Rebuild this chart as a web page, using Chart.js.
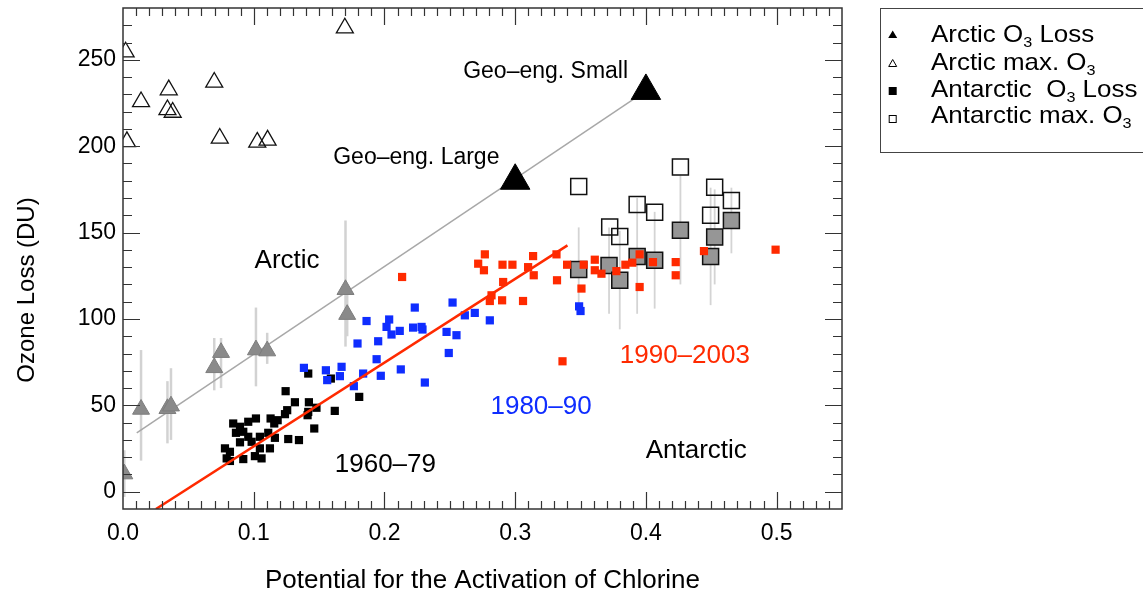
<!DOCTYPE html>
<html>
<head>
<meta charset="utf-8">
<script src="https://cdn.jsdelivr.net/npm/chart.js@4.4.1/dist/chart.umd.min.js"></script>
<style>
html,body{margin:0;padding:0;background:#fff;}
#wrap{position:relative;width:1143px;height:598px;overflow:hidden;}
#legend{position:absolute;left:880px;top:8px;width:300px;height:145px;border:1px solid #444;box-sizing:border-box;
  font-family:'Liberation Sans',Arial,Helvetica,sans-serif;font-size:24px;color:#000;}
#legend .row{position:absolute;left:50px;height:27px;line-height:27px;white-space:nowrap;transform:scaleX(1.08);transform-origin:0 50%;}
#legend .sub{font-size:15px;position:relative;top:5px;}
#legend svg{position:absolute;left:0;top:0;}
</style>
</head>
<body>
<div id="wrap">
<canvas id="c" width="1143" height="598"></canvas>
<div id="legend">
  <svg width="40" height="140">
    <polygon points="11.7,21.5 7.2,29 16.2,29" fill="#000"/>
    <polygon points="11.7,50.5 7.7,57.5 15.7,57.5" fill="none" stroke="#000" stroke-width="1"/>
    <rect x="7.7" y="78" width="8" height="8" fill="#000"/>
    <rect x="8.2" y="106.5" width="7" height="7" fill="none" stroke="#000" stroke-width="1"/>
  </svg>
  <div class="row" style="top:11px">Arctic O<span class="sub">3</span> Loss</div>
  <div class="row" style="top:39px">Arctic max. O<span class="sub">3</span></div>
  <div class="row" style="top:66px">Antarctic&nbsp; O<span class="sub">3</span> Loss</div>
  <div class="row" style="top:92px">Antarctic max. O<span class="sub">3</span></div>
</div>
</div>
<script>
// ---------------- data ----------------
const xTickValues = [0.0, 0.1, 0.2, 0.3, 0.4, 0.5];
const yTickValues = [0, 50, 100, 150, 200, 250];

// Arctic ozone loss (grey triangles) with error bars
const arcticLossX  = [0.001, 0.0138, 0.034, 0.0367, 0.0698, 0.075, 0.1017, 0.1103, 0.1702, 0.1715];
const arcticLossY  = [10.3, 47.7, 48.1, 49.6, 71.8, 80.6, 82.1, 81.5, 117.0, 102.6];
const arcticLossLo = [-3, 18, 28, 30, 58.7, 60, 61, 74, 84, 90];
const arcticLossHi = [24, 82, 64, 71.5, 89, 89, 106.6, 92, 157, 115];

// Arctic max. O3 (open triangles)
const arcticMaxX = [0.002, 0.003, 0.0138, 0.035, 0.034, 0.038, 0.0698, 0.074, 0.1027, 0.1106, 0.1697];
const arcticMaxY = [254.5, 202.6, 225.7, 232.6, 221.1, 219.6, 237.0, 204.6, 202.3, 203.5, 268.4];

// Geo-engineering scenarios (large black triangles)
const geoX = [0.3, 0.4];
const geoY = [180, 232];

// Antarctic ozone loss, 1960-79 (black squares)
const ant6079X = [0.1244, 0.1315, 0.1422, 0.162, 0.148, 0.1417, 0.1256, 0.1239, 0.1129, 0.1183,
                  0.1017, 0.0958, 0.0843, 0.0895, 0.092, 0.0864, 0.0958, 0.1047, 0.1111, 0.1162,
                  0.1412, 0.1463, 0.1264, 0.1346, 0.1124, 0.1047, 0.0984, 0.0895, 0.078, 0.0818,
                  0.0793, 0.092, 0.1009, 0.106, 0.1417, 0.159, 0.1807, 0.1157, 0.0818];
const ant6079Y = [58.2, 51.8, 51.8, 46.8, 48.6, 46.2, 47.2, 44.9, 42.4, 41.4,
                  42.4, 40.5, 39.5, 37.6, 34.7, 34.1, 31.8, 31.8, 34.1, 31.2,
                  44.3, 36.6, 30.5, 29.9, 25.1, 25.1, 28.9, 28.6, 25.1, 23.1,
                  19.3, 18.9, 20.6, 19.3, 68.4, 65.5, 54.9, 39.5, 17.8];

// Antarctic ozone loss, 1980-90 (blue squares)
const ant8090X = [0.1384, 0.1552, 0.1562, 0.1672, 0.1659, 0.1794, 0.1863, 0.1952, 0.194, 0.1837,
                  0.1766, 0.1972, 0.2036, 0.2016, 0.2054, 0.2117, 0.2232, 0.2219, 0.2284, 0.2291,
                  0.2125, 0.2309, 0.2475, 0.2551, 0.2492, 0.2521, 0.2615, 0.2691, 0.2806, 0.3489, 0.35];
const ant8090Y = [71.7, 70.3, 64.6, 72.3, 66.9, 85.8, 98.8, 87.1, 76.7, 68.4,
                  61.1, 67.1, 99.7, 95.4, 91.0, 93.1, 106.6, 95.0, 95.4, 93.9,
                  70.8, 63.2, 92.5, 90.6, 80.3, 109.5, 102.1, 103.5, 99.2, 107.3, 104.6];

// Antarctic ozone loss, 1990-2003 (red squares)
const ant9003X = [0.2135, 0.2768, 0.2717, 0.2761, 0.2903, 0.2979, 0.3137, 0.3099, 0.3142, 0.3316,
                  0.2908, 0.2819, 0.2806, 0.29, 0.306, 0.332, 0.3397, 0.3362, 0.3507, 0.3524,
                  0.3609, 0.3609, 0.366, 0.3774, 0.3843, 0.3896, 0.3952, 0.3952, 0.4054, 0.4228,
                  0.4228, 0.4444, 0.4992];
const ant9003Y = [124.3, 137.4, 132.0, 128.2, 131.4, 131.4, 136.4, 130.0, 125.3, 137.4,
                  121.4, 113.7, 110.4, 110.8, 110.4, 122.4, 131.4, 75.5, 117.6, 131.4,
                  134.3, 128.2, 126.2, 127.7, 131.4, 132.6, 137.4, 118.5, 132.9, 132.9,
                  125.3, 139.3, 140.1];

// Antarctic ozone loss (grey squares) with error bars
const antLossX  = [0.3486, 0.3718, 0.38, 0.3933, 0.4067, 0.4264, 0.4495, 0.4526, 0.4654];
const antLossY  = [128.6, 131.0, 122.4, 136.2, 134.0, 151.3, 136.2, 147.4, 157.0];
const antLossLo = [104, 103, 94, 103, 106, 120, 108, 120, 138];
const antLossHi = [153, 153, 151, 170, 162, 183, 176, 175, 176];

// Antarctic max. O3 (open squares)
const antMaxX = [0.3486, 0.3723, 0.38, 0.3933, 0.4067, 0.4264, 0.4495, 0.4526, 0.4654];
const antMaxY = [176.7, 153.2, 147.8, 166.3, 161.8, 187.9, 160.0, 176.3, 168.6];

// Fit lines
const arcticFitX = [0.0105, 0.4];
const arcticFitY = [34, 232];
const antFitX = [0.0252, 0.34];
const antFitY = [-10, 142.6];

// ---------------- helpers ----------------
const pts = (xs, ys) => xs.map((x, i) => ({x: x, y: ys[i]}));
const RED = '#ff2a00', BLUE = '#0f2dff';
const FONT = "'Liberation Sans', Arial, Helvetica, sans-serif";
const Y_TITLE = 'Ozone Loss (DU)';

Chart.defaults.font.family = FONT;
Chart.defaults.color = '#000';

const annotationTexts = [
  {text: 'Arctic',          x: 0.1255, y: 129.7, size: 26, color: '#000', align: 'center'},
  {text: 'Geo\u2013eng. Large', x: 0.1608, y: 189.8, size: 23, color: '#000', align: 'left'},
  {text: 'Geo\u2013eng. Small', x: 0.2602, y: 239.5, size: 23, color: '#000', align: 'left'},
  {text: '1960\u201379',    x: 0.162,  y: 11.6,  size: 26, color: '#000', align: 'left'},
  {text: '1980\u201390',    x: 0.2811, y: 44.9,  size: 26, color: BLUE,   align: 'left'},
  {text: '1990\u20132003',  x: 0.38,   y: 74.8,  size: 26, color: RED,    align: 'left'},
  {text: 'Antarctic',       x: 0.3998, y: 19.3,  size: 26, color: '#000', align: 'left'}
];

const errorBarPlugin = {
  id: 'errorBars',
  beforeDatasetsDraw(chart) {
    const {ctx, chartArea: a, scales: {x, y}} = chart;
    ctx.save();
    ctx.beginPath(); ctx.rect(a.left, a.top, a.right - a.left, a.bottom - a.top); ctx.clip();
    ctx.strokeStyle = '#d2d2d2';
    ctx.lineWidth = 2.5;
    arcticLossX.forEach((v, i) => {
      const px = x.getPixelForValue(v);
      ctx.beginPath();
      ctx.moveTo(px, y.getPixelForValue(arcticLossLo[i]));
      ctx.lineTo(px, y.getPixelForValue(arcticLossHi[i]));
      ctx.stroke();
    });
    ctx.strokeStyle = '#d4d4d4';
    ctx.lineWidth = 1.8;
    antLossX.forEach((v, i) => {
      const px = x.getPixelForValue(v);
      ctx.beginPath();
      ctx.moveTo(px, y.getPixelForValue(antLossLo[i]));
      ctx.lineTo(px, y.getPixelForValue(antLossHi[i]));
      ctx.stroke();
    });
    ctx.restore();
  }
};

const framePlugin = {
  id: 'frameTicks',
  afterDatasetsDraw(chart) {
    const {ctx, chartArea: a, scales: {x, y}} = chart;
    ctx.save();
    ctx.strokeStyle = '#333';
    ctx.lineWidth = 1.5;
    ctx.strokeRect(a.left, a.top, a.right - a.left, a.bottom - a.top);
    ctx.lineWidth = 1.2;
    ctx.beginPath();
    for (let i = 1; i < 55; i++) {
      const v = i / 100;
      const px = Math.round(x.getPixelForValue(v)) + 0.5;
      const major = xTickValues.some(t => Math.abs(t - v) < 1e-9);
      const len = major ? 17 : 8;
      ctx.moveTo(px, a.bottom); ctx.lineTo(px, a.bottom - len);
      ctx.moveTo(px, a.top); ctx.lineTo(px, a.top + len);
    }
    for (let v = 0; v < 280; v += 10) {
      const py = Math.round(y.getPixelForValue(v)) + 0.5;
      const major = yTickValues.includes(v);
      const len = major ? 17 : 9;
      ctx.moveTo(a.left, py); ctx.lineTo(a.left + len, py);
      ctx.moveTo(a.right, py); ctx.lineTo(a.right - len, py);
    }
    ctx.stroke();
    ctx.restore();
  },
  afterDraw(chart) {
    const {ctx, scales: {x, y}} = chart;
    ctx.save();
    ctx.textBaseline = 'alphabetic';
    annotationTexts.forEach(t => {
      ctx.font = t.size + 'px ' + FONT;
      ctx.fillStyle = t.color;
      ctx.textAlign = t.align;
      ctx.fillText(t.text, x.getPixelForValue(t.x), y.getPixelForValue(t.y));
    });
    // y-axis title (placed like the original, slightly below the axis centre)
    ctx.translate(27, 290);
    ctx.rotate(-Math.PI / 2);
    ctx.font = '24px ' + FONT;
    ctx.fillStyle = '#000';
    ctx.textAlign = 'center';
    ctx.textBaseline = 'middle';
    ctx.fillText(Y_TITLE, 0, 0);
    ctx.restore();
  }
};

const chart = new Chart(document.getElementById('c'), {
  type: 'scatter',
  data: {
    datasets: [
      { label: 'Geo-engineering', data: pts(geoX, geoY), pointStyle: 'triangle', pointRadius: 17,
        backgroundColor: '#000', borderColor: '#000', borderWidth: 1 },
      { type: 'line', label: 'Antarctic fit', data: pts(antFitX, antFitY), borderColor: RED, borderWidth: 2.5,
        pointRadius: 0, fill: false, tension: 0 },
      { label: '1990-2003', data: pts(ant9003X, ant9003Y), pointStyle: 'rect', pointRadius: 5.8,
        backgroundColor: RED, borderColor: RED, borderWidth: 0 },
      { label: '1980-90', data: pts(ant8090X, ant8090Y), pointStyle: 'rect', pointRadius: 5.8,
        backgroundColor: BLUE, borderColor: BLUE, borderWidth: 0 },
      { label: '1960-79', data: pts(ant6079X, ant6079Y), pointStyle: 'rect', pointRadius: 5.8,
        backgroundColor: '#000', borderColor: '#000', borderWidth: 0 },
      { label: 'Arctic max. O3', data: pts(arcticMaxX, arcticMaxY), pointStyle: 'triangle', pointRadius: 9.8,
        backgroundColor: 'rgba(255,255,255,0)', borderColor: '#111', borderWidth: 1.3 },
      { label: 'Arctic O3 Loss', data: pts(arcticLossX, arcticLossY), pointStyle: 'triangle', pointRadius: 9.8,
        backgroundColor: '#8a8a8a', borderColor: '#7d7d7d', borderWidth: 1 },
      { type: 'line', label: 'Arctic fit', data: pts(arcticFitX, arcticFitY), borderColor: '#a8a8a8', borderWidth: 1.5,
        pointRadius: 0, fill: false, tension: 0 },
      { label: 'Antarctic O3 Loss', data: pts(antLossX, antLossY), pointStyle: 'rect', pointRadius: 11.3,
        backgroundColor: '#969696', borderColor: '#111', borderWidth: 1.5 },
      { label: 'Antarctic max. O3', data: pts(antMaxX, antMaxY), pointStyle: 'rect', pointRadius: 11.3,
        backgroundColor: 'rgba(255,255,255,0)', borderColor: '#111', borderWidth: 1.5 }
    ]
  },
  options: {
    responsive: false,
    animation: false,
    events: [],
    layout: { autoPadding: false, padding: { left: 0, top: 8, right: 301, bottom: 0 } },
    plugins: { legend: { display: false }, tooltip: { enabled: false } },
    scales: {
      x: {
        type: 'linear', min: 0, max: 0.55,
        afterBuildTicks: s => { s.ticks = xTickValues.map(v => ({value: v})); },
        afterFit: s => { s.height = 89; s.paddingLeft = 0; s.paddingRight = 0; },
        grid: { display: false, drawTicks: false },
        border: { display: false },
        ticks: { callback: v => Number(v).toFixed(1), font: { size: 23 }, color: '#000', padding: 11,
                 maxRotation: 0, autoSkip: false },
        title: { display: true, text: 'Potential for the Activation of Chlorine', font: { size: 26 },
                 color: '#000', padding: { top: 0, bottom: 2 } }
      },
      y: {
        type: 'linear', min: -10, max: 280,
        afterBuildTicks: s => { s.ticks = yTickValues.map(v => ({value: v})); },
        afterFit: s => { s.width = 123; s.paddingTop = 0; s.paddingBottom = 0; },
        grid: { display: false, drawTicks: false },
        border: { display: false },
        ticks: { callback: v => String(v), font: { size: 23 }, color: '#000', padding: 7, autoSkip: false }
      }
    }
  },
  plugins: [errorBarPlugin, framePlugin]
});
</script>
</body>
</html>
